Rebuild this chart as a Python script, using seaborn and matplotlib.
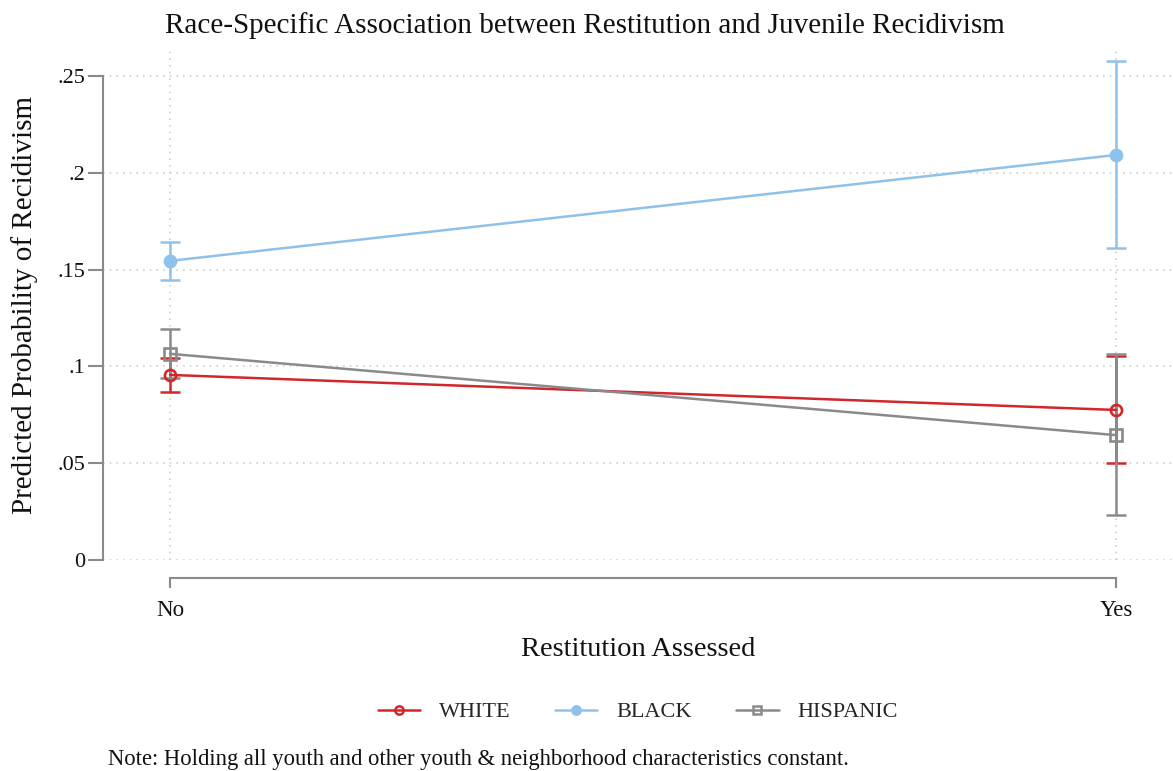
import matplotlib
matplotlib.use("Agg")
import matplotlib.pyplot as plt
import seaborn as sns
import pandas as pd
import numpy as np
from matplotlib.lines import Line2D

categories = ["No", "Yes"]
groups = ["WHITE", "BLACK", "HISPANIC"]
white_est = [0.0956, 0.0775]
white_lo = [0.0868, 0.0500]
white_hi = [0.1044, 0.1055]
black_est = [0.1545, 0.2092]
black_lo = [0.1446, 0.1610]
black_hi = [0.1644, 0.2577]
hisp_est = [0.1065, 0.0645]
hisp_lo = [0.0940, 0.0232]
hisp_hi = [0.1192, 0.1062]
yticks = [0, 0.05, 0.10, 0.15, 0.20, 0.25]
ytick_labels = ["0", ".05", ".1", ".15", ".2", ".25"]

colors = {"WHITE": "#d3262b", "BLACK": "#8ec2ea", "HISPANIC": "#8a8a8a"}
est = {"WHITE": white_est, "BLACK": black_est, "HISPANIC": hisp_est}
lo = {"WHITE": white_lo, "BLACK": black_lo, "HISPANIC": hisp_lo}
hi = {"WHITE": white_hi, "BLACK": black_hi, "HISPANIC": hisp_hi}

rows = []
for g in groups:
    for i, c in enumerate(categories):
        rows.append({"x": i, "group": g, "y": est[g][i]})
df = pd.DataFrame(rows)

sns.set_theme(style="white")
plt.rcParams["font.family"] = ["Liberation Serif", "DejaVu Serif"]

W, H = 1173, 771
fig = plt.figure(figsize=(W / 100, H / 100), dpi=100)
ax_l, ax_r, ax_t, ax_b = 103, 1173, 50, 560
ax = fig.add_axes([ax_l / W, 1 - ax_b / H, (ax_r - ax_l) / W, (ax_b - ax_t) / H])

# grid
for yv in yticks:
    ax.axhline(yv, color="#cfcfcf", lw=1.2, ls=(0, (1, 3)), zorder=0)
for xv in range(len(categories)):
    ax.axvline(xv, color="#cfcfcf", lw=1.2, ls=(0, (1, 3)), zorder=0)

markers = {"WHITE": "o", "BLACK": "o", "HISPANIC": "s"}
faces = {"WHITE": "none", "BLACK": colors["BLACK"], "HISPANIC": "none"}

for g in groups:
    d = df[df.group == g]
    sns.lineplot(data=d, x="x", y="y", color=colors[g], lw=1.8, ax=ax,
                 legend=False, zorder=3)
    x = np.arange(len(categories))
    y = np.array(est[g])
    yerr = np.vstack([y - np.array(lo[g]), np.array(hi[g]) - y])
    ax.errorbar(x, y, yerr=yerr, fmt="none", ecolor=colors[g], elinewidth=1.8,
                capsize=7, capthick=1.8, zorder=2)
    ax.plot(x, y, ls="none", marker=markers[g], ms=8, mfc=faces[g],
            mec=colors[g], mew=1.9, zorder=4)

ax.set_xlim(-(170 - ax_l) / 946, 1 + (ax_r - 1116) / 946)
ax.set_ylim(0, (ax_b - ax_t) / 1936)
ax.grid(False)

for s in ["top", "right"]:
    ax.spines[s].set_visible(False)
ax.spines["bottom"].set_position(("outward", 13))
ax.spines["left"].set_bounds(0, 0.25)
ax.spines["bottom"].set_bounds(0, 1)
for s in ["left", "bottom"]:
    ax.spines[s].set_color("#8a8a8a")
    ax.spines[s].set_linewidth(1.5)

ax.set_yticks(yticks)
ax.set_yticklabels(ytick_labels)
ax.set_xticks(range(len(categories)))
ax.set_xticklabels(categories)
ax.tick_params(axis="both", which="both", direction="out", width=1.5,
               color="#8a8a8a", labelcolor="#111111", bottom=True, left=True)
ax.tick_params(axis="y", length=10.5, pad=2, labelsize=16)
ax.tick_params(axis="x", length=7, pad=9, labelsize=16.5)

ax.set_xlabel("Restitution Assessed", fontsize=20.5, labelpad=11, color="#111111")
ax.set_ylabel("Predicted Probability of Recidivism", fontsize=21,
              color="#111111")
ax.yaxis.set_label_coords((38 - ax_l) / (ax_r - ax_l), 0.5)

fig.text(585 / W, 1 - 26 / H, "Race-Specific Association between Restitution and Juvenile Recidivism",
         ha="center", va="center", fontsize=21, color="#111111")

handles = [Line2D([], [], color=colors[g], lw=1.8, marker=markers[g], ms=6,
                  mfc=faces[g], mec=colors[g], mew=1.8) for g in groups]
fig.legend(handles, groups, loc="center", bbox_to_anchor=(638 / W, 1 - 712 / H),
           ncol=3, frameon=False, fontsize=16, handlelength=1.9,
           columnspacing=2.0, handletextpad=0.85)

fig.text(108 / W, 1 - 760 / H,
         "Note: Holding all youth and other youth & neighborhood characteristics constant.",
         ha="left", va="center", fontsize=16.3, color="#111111")

fig.savefig("out.png", dpi=100)
